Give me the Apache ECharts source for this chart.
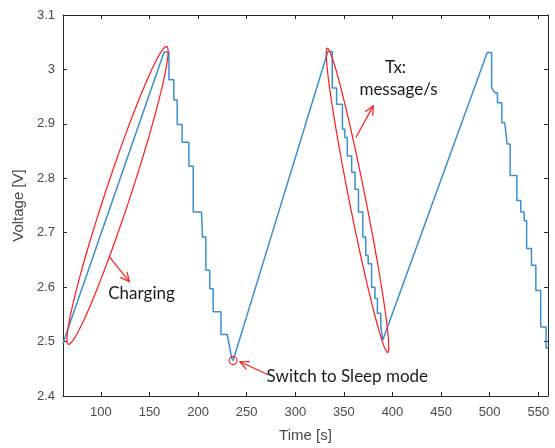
<!DOCTYPE html>
<html>
<head>
<meta charset="utf-8">
<script src="https://cdn.jsdelivr.net/npm/echarts@6/dist/echarts.min.js"></script>
<style>
  html, body { margin: 0; padding: 0; background: #fff; }
  #chart { width: 555px; height: 448px; }
</style>
</head>
<body>
<div id="chart"></div>
<script>
// Supercapacitor voltage over time: charging ramps followed by stepped
// discharge while transmitting messages.
const timeS = [
  61, 165, 170,
  170, 175, 175, 178.5, 178.5, 183.5, 183.5, 190.5, 190.5, 195, 195, 203.5,
  204.5, 208, 208, 212, 212, 215.5, 215.5, 223.5, 223.5, 230, 234.5, 236,
  333.5, 338,
  338, 342.5, 342.5, 348.5, 348.5, 351, 351, 353.5, 353.5, 358, 358, 361.5,
  361.5, 365, 365, 369.5, 369.5, 372.5, 372.5, 375, 375, 378.5, 378.5, 382,
  382, 384.5, 384.5, 388, 388, 390, 390, 392,
  497.5, 502,
  502, 505.5, 508, 508, 512.5, 512.5, 515.5, 518, 521, 521, 528, 528, 532,
  532, 535.5, 535.5, 538, 538, 543, 543, 547.5, 547.5, 552.5, 552.5, 558,
  558, 560
];
const voltageV = [
  2.497, 3.032, 3.032,
  2.981, 2.981, 2.944, 2.944, 2.899, 2.899, 2.866, 2.866, 2.822, 2.822, 2.738, 2.738,
  2.692, 2.692, 2.631, 2.631, 2.597, 2.597, 2.555, 2.555, 2.513, 2.513, 2.470, 2.465,
  3.033, 3.033,
  2.966, 2.966, 2.936, 2.936, 2.890, 2.890, 2.875, 2.875, 2.841, 2.841, 2.811, 2.811,
  2.780, 2.780, 2.738, 2.738, 2.692, 2.692, 2.658, 2.658, 2.643, 2.643, 2.600, 2.600,
  2.579, 2.579, 2.552, 2.552, 2.527, 2.527, 2.503, 2.503,
  3.031, 3.031,
  2.966, 2.957, 2.957, 2.939, 2.939, 2.902, 2.902, 2.863, 2.863, 2.805, 2.805, 2.759, 2.759,
  2.738, 2.738, 2.722, 2.722, 2.671, 2.671, 2.640, 2.640, 2.594, 2.594, 2.527, 2.527,
  2.488, 2.488
];
const xTicks = [100, 150, 200, 250, 300, 350, 400, 450, 500, 550];
const yTicks = [2.4, 2.5, 2.6, 2.7, 2.8, 2.9, 3.0, 3.1];

const AXIS_COLOR = '#262626';
const LABEL_COLOR = '#4a4a4a';
const TICK_FONT = 'Liberation Sans';

const chart = echarts.init(document.getElementById('chart'), null, { renderer: 'canvas' });

const fmtY = v => String(Math.round(v * 10) / 10);

const boxAxisCommon = {
  axisLine: { show: true, onZero: false, lineStyle: { color: AXIS_COLOR, width: 1 } },
  splitLine: { show: false }
};

chart.setOption({
  animation: false,
  backgroundColor: '#fff',
  grid: { left: 63, right: 7, top: 15, bottom: 51, containLabel: false },
  xAxis: [
    Object.assign({
      type: 'value', min: 61, max: 560, position: 'bottom',
      name: 'Time [s]', nameLocation: 'middle', nameGap: 32,
      nameTextStyle: { color: LABEL_COLOR, fontFamily: TICK_FONT, fontSize: 15 },
      axisTick: { show: true, inside: true, length: 4, customValues: xTicks, lineStyle: { color: AXIS_COLOR } },
      axisLabel: { show: true, customValues: xTicks, margin: 10, color: LABEL_COLOR, fontFamily: TICK_FONT, fontSize: 13 }
    }, boxAxisCommon),
    Object.assign({
      type: 'value', min: 61, max: 560, position: 'top',
      axisTick: { show: true, inside: true, length: 4, customValues: xTicks, lineStyle: { color: AXIS_COLOR } },
      axisLabel: { show: false }
    }, boxAxisCommon)
  ],
  yAxis: [
    Object.assign({
      type: 'value', min: 2.4, max: 3.1, position: 'left',
      name: 'Voltage [V]', nameLocation: 'middle', nameGap: 34,
      nameTextStyle: { color: LABEL_COLOR, fontFamily: TICK_FONT, fontSize: 15 },
      axisTick: { show: true, inside: true, length: 4, customValues: yTicks, lineStyle: { color: AXIS_COLOR } },
      axisLabel: { show: true, customValues: yTicks, margin: 8, color: LABEL_COLOR, fontFamily: TICK_FONT, fontSize: 13, formatter: fmtY }
    }, boxAxisCommon),
    Object.assign({
      type: 'value', min: 2.4, max: 3.1, position: 'right',
      axisTick: { show: true, inside: true, length: 4, customValues: yTicks, lineStyle: { color: AXIS_COLOR } },
      axisLabel: { show: false }
    }, boxAxisCommon)
  ],
  series: [{
    type: 'line',
    xAxisIndex: 0, yAxisIndex: 0,
    data: timeS.map((t, i) => [t, voltageV[i]]),
    showSymbol: false,
    lineStyle: { color: '#3a8fd2', width: 1.5 },
    z: 3
  }]
});

// ---- Annotations, anchored in (time, voltage) coordinates ----
const toPx = p => chart.convertToPixel({ xAxisIndex: 0, yAxisIndex: 0 }, p);
const RED = '#ff1a1a';

function ellipsePoints(tipA, tipB, halfWidth) {
  const a = toPx(tipA), b = toPx(tipB);
  const cx = (a[0] + b[0]) / 2, cy = (a[1] + b[1]) / 2;
  const dx = b[0] - a[0], dy = b[1] - a[1];
  const len = Math.hypot(dx, dy);
  const ux = dx / len, uy = dy / len, nx = -uy, ny = ux;
  const semi = len / 2, pts = [];
  for (let k = 0; k < 96; k++) {
    const phi = (k / 96) * Math.PI * 2;
    const c = Math.cos(phi) * semi, s = Math.sin(phi) * halfWidth;
    pts.push([cx + c * ux + s * nx, cy + c * uy + s * ny]);
  }
  return pts;
}

function arrow(from, to) {
  const p = toPx(from), q = toPx(to);
  const ang = Math.atan2(q[1] - p[1], q[0] - p[0]);
  const head = 10, spread = 0.45;
  const h1 = [q[0] - head * Math.cos(ang - spread), q[1] - head * Math.sin(ang - spread)];
  const h2 = [q[0] - head * Math.cos(ang + spread), q[1] - head * Math.sin(ang + spread)];
  return [
    { type: 'line', shape: { x1: p[0], y1: p[1], x2: q[0], y2: q[1] }, style: { stroke: RED, lineWidth: 1.2 }, z: 10 },
    { type: 'polyline', shape: { points: [h1, q, h2] }, style: { stroke: RED, lineWidth: 1.2, fill: null }, z: 10 }
  ];
}

function label(text, at, align) {
  const p = toPx(at);
  return {
    type: 'text', x: p[0], y: p[1], z: 10,
    style: {
      text: text, fill: '#1a1a1a', font: '17px Lato',
      textAlign: align || 'center', textVerticalAlign: 'middle'
    }
  };
}

const minPt = toPx([236, 2.465]);

const elements = [
  { type: 'polygon', shape: { points: ellipsePoints([66.5, 2.495], [167.7, 3.042], 12.5) },
    style: { stroke: RED, lineWidth: 1.2, fill: null }, z: 9 },
  { type: 'polygon', shape: { points: ellipsePoints([332.9, 3.039], [395.1, 2.480], 8.2) },
    style: { stroke: RED, lineWidth: 1.2, fill: null }, z: 9 },
  { type: 'circle', shape: { cx: minPt[0], cy: minPt[1], r: 4 },
    style: { stroke: RED, lineWidth: 1.1, fill: null }, z: 9 },
  ...arrow([108.6, 2.656], [129.2, 2.610]),
  ...arrow([362.4, 2.875], [380.2, 2.933]),
  ...arrow([272.2, 2.439], [243.1, 2.463]),
  label('Charging', [141.8, 2.588]),
  label('Tx:', [403.1, 3.003]),
  label('message/s', [406.2, 2.963]),
  label('Switch to Sleep mode', [270.5, 2.4366], 'left')
];

chart.setOption({ graphic: { elements: elements } });
</script>
</body>
</html>
